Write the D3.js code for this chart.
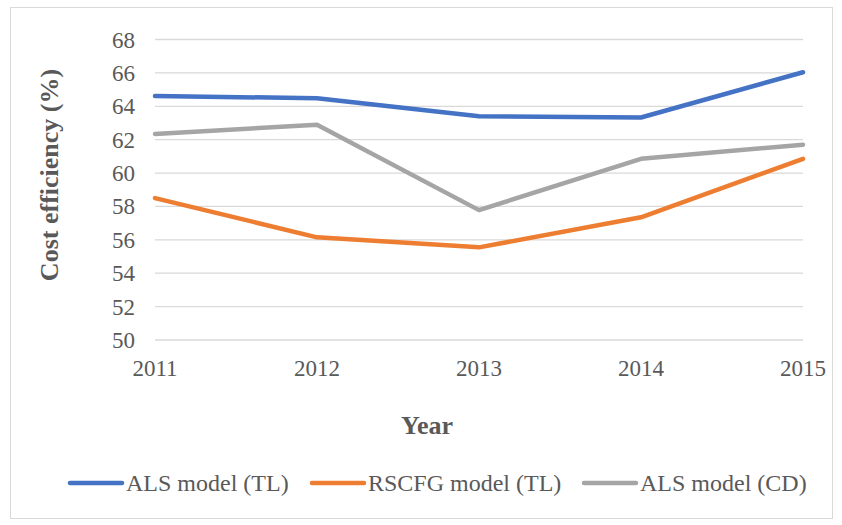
<!DOCTYPE html>
<html>
<head>
<meta charset="utf-8">
<script src="https://cdn.jsdelivr.net/npm/d3@7"></script>
<style>
  body { margin: 0; background: #fff; }
</style>
</head>
<body>
<div id="app"></div>
<script>
const years = ['2011', '2012', '2013', '2014', '2015']
const alsTL = [64.62, 64.48, 63.4, 63.33, 66.04]
const rscfgTL = [58.5, 56.15, 55.55, 57.35, 60.85]
const alsCD = [62.34, 62.9, 57.78, 60.85, 61.7]
const yTicks = [50, 52, 54, 56, 58, 60, 62, 64, 66, 68]
const seriesNames = ['ALS model (TL)', 'RSCFG model (TL)', 'ALS model (CD)']
const colors = ['#4472C4', '#ED7D31', '#A5A5A5']

const w = 842
const h = 525

const svg = d3.select('#app')
  .append('svg')
  .attr('width', w)
  .attr('height', h)
  .attr('font-family', "'Liberation Serif', 'Times New Roman', Tinos, 'DejaVu Serif', serif")

// chart border
svg.append('rect')
  .attr('x', 10.5).attr('y', 7.5)
  .attr('width', 822).attr('height', 511)
  .attr('fill', '#fff')
  .attr('stroke', '#d9d9d9')

const x = d3.scalePoint()
  .domain(years)
  .range([155, 803])

const y = d3.scaleLinear()
  .domain([50, 68])
  .range([340, 39.5])

// gridlines
svg.append('g')
  .selectAll('line')
  .data(yTicks)
  .enter()
  .append('line')
  .attr('x1', 155).attr('x2', 803)
  .attr('y1', d => y(d)).attr('y2', d => y(d))
  .attr('stroke', '#d9d9d9')
  .attr('stroke-width', 1.3)

// y tick labels
svg.append('g')
  .selectAll('text')
  .data(yTicks)
  .enter()
  .append('text')
  .attr('x', 135)
  .attr('y', d => y(d))
  .attr('dy', '0.35em')
  .attr('text-anchor', 'end')
  .attr('fill', '#595959')
  .style('font-size', '23px')
  .text(d => d)

// x tick labels
svg.append('g')
  .selectAll('text')
  .data(years)
  .enter()
  .append('text')
  .attr('x', d => x(d))
  .attr('y', 376)
  .attr('text-anchor', 'middle')
  .attr('fill', '#595959')
  .style('font-size', '23px')
  .text(d => d)

// axis titles
svg.append('text')
  .attr('transform', 'translate(58,175) rotate(-90)')
  .attr('text-anchor', 'middle')
  .attr('fill', '#595959')
  .style('font-size', '26px')
  .style('font-weight', 'bold')
  .text('Cost efficiency (%)')

svg.append('text')
  .attr('x', 427)
  .attr('y', 434)
  .attr('text-anchor', 'middle')
  .attr('fill', '#595959')
  .style('font-size', '26px')
  .style('font-weight', 'bold')
  .text('Year')

// lines
const series = [alsTL, rscfgTL, alsCD]
const line = d3.line()
  .x((d, i) => x(years[i]))
  .y(d => y(d))

svg.append('g')
  .selectAll('path')
  .data(series)
  .enter()
  .append('path')
  .attr('d', line)
  .attr('fill', 'none')
  .attr('stroke', (d, i) => colors[i])
  .attr('stroke-width', 4.5)
  .attr('stroke-linecap', 'round')
  .attr('stroke-linejoin', 'round')

// legend
const legendX = [70, 312, 584]
const legend = svg.append('g')
  .selectAll('g')
  .data(seriesNames)
  .enter()
  .append('g')
  .attr('transform', (d, i) => 'translate(' + legendX[i] + ',483)')

legend.append('line')
  .attr('x1', 0).attr('x2', 52)
  .attr('stroke', (d, i) => colors[i])
  .attr('stroke-width', 4.5)
  .attr('stroke-linecap', 'round')

legend.append('text')
  .attr('x', 56)
  .attr('dy', '0.35em')
  .attr('fill', '#595959')
  .style('font-size', '24px')
  .text(d => d)
</script>
</body>
</html>
